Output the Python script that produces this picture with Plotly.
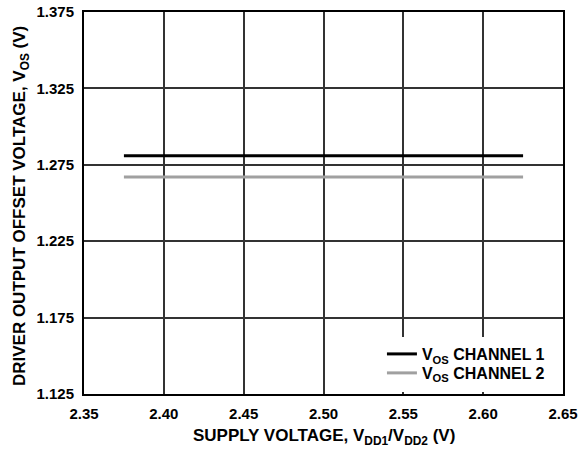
import plotly.graph_objects as go

supply_v = [2.375, 2.625]
vos_ch1 = [1.281, 1.281]
vos_ch2 = [1.267, 1.267]
x_ticks = [2.35, 2.40, 2.45, 2.50, 2.55, 2.60, 2.65]
y_ticks = [1.125, 1.175, 1.225, 1.275, 1.325, 1.375]

FAM = "Liberation Sans, Arial, sans-serif"
tick_font = dict(family=FAM, size=15, color="black", weight="bold")
title_font = dict(family=FAM, size=17, color="black", weight="bold")
legend_font = dict(family=FAM, size=16, color="black", weight="bold")

fig = go.Figure()
fig.add_trace(go.Scatter(x=supply_v, y=vos_ch1, mode="lines",
                         line=dict(color="black", width=3),
                         name="V<sub>OS</sub> CHANNEL 1", legend="legend"))
fig.add_trace(go.Scatter(x=supply_v, y=vos_ch2, mode="lines",
                         line=dict(color="#a0a0a0", width=3),
                         name="V<sub>OS</sub> CHANNEL 2", legend="legend2"))

fig.update_layout(
    width=586, height=459,
    margin=dict(l=84, r=23, t=12, b=65, autoexpand=False),
    paper_bgcolor="white", plot_bgcolor="white",
    font=tick_font,
    showlegend=True,
    legend=dict(x=0.622, y=0.1047, xanchor="left", yanchor="middle",
                bgcolor="rgba(0,0,0,0)", borderwidth=0,
                font=legend_font, itemwidth=30),
    legend2=dict(x=0.622, y=0.055, xanchor="left", yanchor="middle",
                 bgcolor="rgba(0,0,0,0)", borderwidth=0,
                 font=legend_font, itemwidth=30),
    shapes=[dict(type="rect", xref="paper", yref="paper",
                 x0=0.603, x1=1 - 2 / 479, y0=2 / 382, y1=0.149,
                 fillcolor="white", line=dict(width=0), layer="above")],
    annotations=[
        dict(text="SUPPLY VOLTAGE, V<sub>DD1</sub>/V<sub>DD2</sub> (V)",
             xref="paper", yref="paper", x=0.5, y=-0.1126,
             xanchor="center", yanchor="middle", showarrow=False, font=title_font),
        dict(text="DRIVER OUTPUT OFFSET VOLTAGE, V<sub>OS</sub> (V)",
             xref="paper", yref="paper", x=-0.1315, y=0.492, textangle=-90,
             xanchor="center", yanchor="middle", showarrow=False, font=title_font),
    ],
)
fig.update_xaxes(
    range=[2.35, 2.65], tickvals=x_ticks,
    ticktext=[f"{v:.2f}" for v in x_ticks], tickfont=tick_font,
    showgrid=True, gridcolor="#333333", gridwidth=1.5,
    showline=True, linecolor="black", linewidth=2, mirror=True,
    ticks="outside", ticklen=5, tickcolor="rgba(0,0,0,0)",
    zeroline=False, automargin=False, ticklabeloverflow="allow",
)
fig.update_yaxes(
    range=[1.125, 1.375], tickvals=y_ticks,
    ticktext=[f"{v:.3f}" for v in y_ticks], tickfont=tick_font,
    showgrid=True, gridcolor="#333333", gridwidth=1.5,
    showline=True, linecolor="black", linewidth=2, mirror=True,
    ticks="outside", ticklen=5, tickcolor="rgba(0,0,0,0)",
    zeroline=False, automargin=False, ticklabeloverflow="allow",
)

fig.write_html("out.html",
               config={"displayModeBar": False},
               post_script="document.body.style.margin='0';document.body.style.overflow='hidden';")
